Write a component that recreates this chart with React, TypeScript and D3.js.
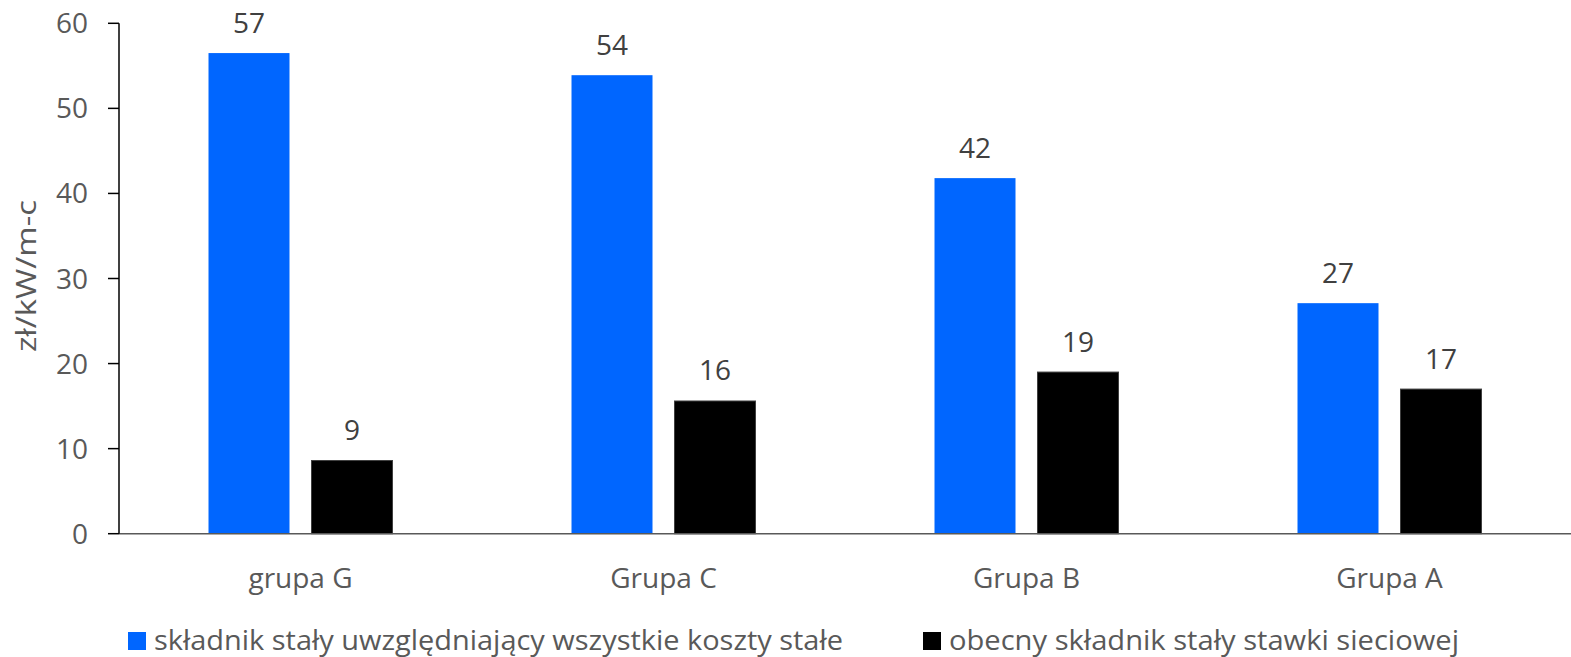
import * as d3 from "d3";

const categories = ["grupa G", "Grupa C", "Grupa B", "Grupa A"];
const seriesNames = [
  "składnik stały uwzględniający wszystkie koszty stałe",
  "obecny składnik stały stawki sieciowej",
];
const fullCost = [56.5, 53.9, 41.8, 27.1];
const currentRate = [8.6, 15.6, 19.0, 17.0];
const yTicks = [0, 10, 20, 30, 40, 50, 60];
const colors = ["#0066ff", "#000000"];

export default function App() {
  const width = 1571;
  const height = 657;
  const marginLeft = 119;
  const marginRight = 0;
  const marginTop = 23.3;
  const baseY = 533.7;
  const font = "'Open Sans', sans-serif";

  const series = [fullCost, currentRate];

  const x = d3.scaleBand(categories, [marginLeft, width - marginRight]);
  const xs = d3
    .scaleBand([0, 1], [0, x.bandwidth()])
    .paddingInner(0.2136)
    .paddingOuter(0.869);
  const y = d3.scaleLinear([0, 60], [baseY, marginTop]);

  // legend layout: marker x and text width
  const legendX = [128, 923];
  const legendLen = [689, 510];

  return (
    <svg
      width={width}
      height={height}
      style={{ position: "absolute", left: 0, top: 0, background: "#fff" }}
    >
      {/* bars */}
      {series.map((vals, si) =>
        vals.map((v, i) => {
          const bx = x(categories[i])! + xs(si)!;
          return (
            <g key={`${si}-${i}`}>
              <rect
                x={bx}
                y={y(v)}
                width={xs.bandwidth()}
                height={y(0) - y(v)}
                fill={colors[si]}
                stroke={si === 1 ? "#404040" : "none"}
                strokeWidth={1}
              />
              <text
                x={bx + xs.bandwidth() / 2}
                y={y(v) - 20.5}
                textAnchor="middle"
                fontFamily={font}
                fontSize={28}
                fill="#404040"
              >
                {Math.round(v)}
              </text>
            </g>
          );
        })
      )}

      {/* x axis */}
      <line x1={marginLeft} x2={width} y1={y(0)} y2={y(0)} stroke="#595959" strokeWidth={1.5} />
      {categories.map((c) => (
        <text
          key={c}
          x={x(c)! + x.bandwidth() / 2}
          y={588}
          textAnchor="middle"
          fontFamily={font}
          fontSize={28}
          fill="#595959"
        >
          {c}
        </text>
      ))}

      {/* y axis */}
      <line x1={marginLeft} x2={marginLeft} y1={y(60)} y2={y(0)} stroke="#000" strokeWidth={1.5} />
      {yTicks.map((t) => (
        <g key={t}>
          <line x1={marginLeft - 11} x2={marginLeft} y1={y(t)} y2={y(t)} stroke="#000" strokeWidth={1.5} />
          <text
            x={88}
            y={y(t) + 10}
            textAnchor="end"
            fontFamily={font}
            fontSize={28}
            fill="#595959"
          >
            {t}
          </text>
        </g>
      ))}
      <text
        transform={`translate(36,276) rotate(-90)`}
        textAnchor="middle"
        fontFamily={font}
        fontSize={27}
        fill="#595959"
        textLength={152}
        lengthAdjust="spacingAndGlyphs"
      >
        zł/kW/m-c
      </text>

      {/* legend */}
      {seriesNames.map((n, i) => (
        <g key={n}>
          <rect x={legendX[i]} y={632} width={18} height={18} fill={colors[i]} />
          <text
            x={legendX[i] + 26}
            y={650}
            fontFamily={font}
            fontSize={28}
            fill="#595959"
            textLength={legendLen[i]}
            lengthAdjust="spacingAndGlyphs"
          >
            {n}
          </text>
        </g>
      ))}
    </svg>
  );
}
